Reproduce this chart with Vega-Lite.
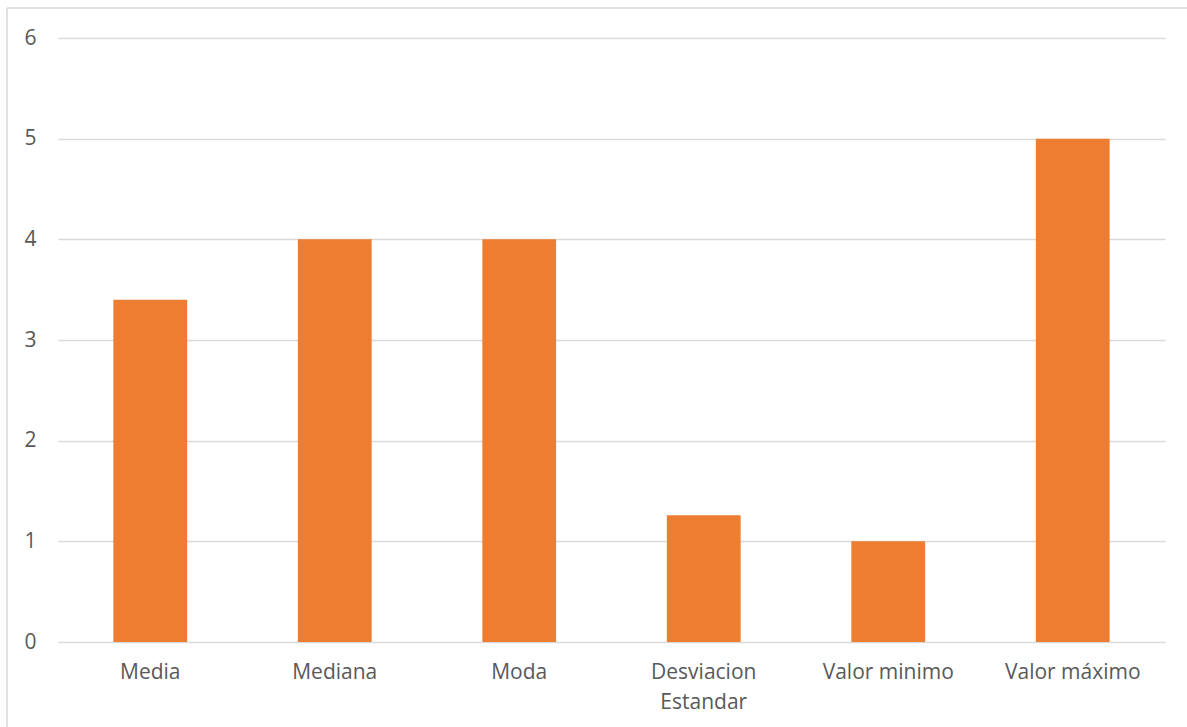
{
  "$schema": "https://vega.github.io/schema/vega-lite/v6.json",
  "autosize": {"type": "none"},
  "padding": {"top": 8, "left": 7, "right": 0, "bottom": 0},
  "width": 1180,
  "height": 719,
  "background": "white",
  "config": {
    "view": {"stroke": "#D9D9D9", "strokeWidth": 1.5, "strokeDash": [1180, 1899, 719, 0]},
    "font": "Open Sans"
  },
  "data": {
    "values": [
      {"estadistico": "Media", "valor": 3.4},
      {"estadistico": "Mediana", "valor": 4},
      {"estadistico": "Moda", "valor": 4},
      {"estadistico": "Desviacion Estandar", "valor": 1.26},
      {"estadistico": "Valor minimo", "valor": 1},
      {"estadistico": "Valor máximo", "valor": 5}
    ]
  },
  "mark": {"type": "bar", "color": "#ED7D31"},
  "encoding": {
    "x": {
      "field": "estadistico",
      "type": "nominal",
      "sort": null,
      "scale": {"range": [51, 1158], "paddingInner": 0.6, "paddingOuter": 0.3},
      "axis": {
        "title": null,
        "orient": "bottom",
        "offset": -85,
        "domain": false,
        "ticks": false,
        "tickSize": 0,
        "grid": false,
        "labelAngle": 0,
        "labelPadding": 19,
        "labelFont": "Open Sans",
        "labelFontSize": 21,
        "labelColor": "#595959",
        "labelLineHeight": 30,
        "labelExpr": "datum.value == 'Desviacion Estandar' ? ['Desviacion', 'Estandar'] : datum.value"
      }
    },
    "y": {
      "field": "valor",
      "type": "quantitative",
      "scale": {"domain": [0, 6], "range": [634, 30], "nice": false},
      "axis": {
        "title": null,
        "orient": "left",
        "offset": -51,
        "values": [0, 1, 2, 3, 4, 5, 6],
        "domain": false,
        "ticks": false,
        "tickSize": 0,
        "grid": true,
        "gridColor": "#D9D9D9",
        "gridWidth": 1.3,
        "labelPadding": 22,
        "labelFont": "Open Sans",
        "labelFontSize": 21,
        "labelColor": "#595959"
      }
    }
  }
}
